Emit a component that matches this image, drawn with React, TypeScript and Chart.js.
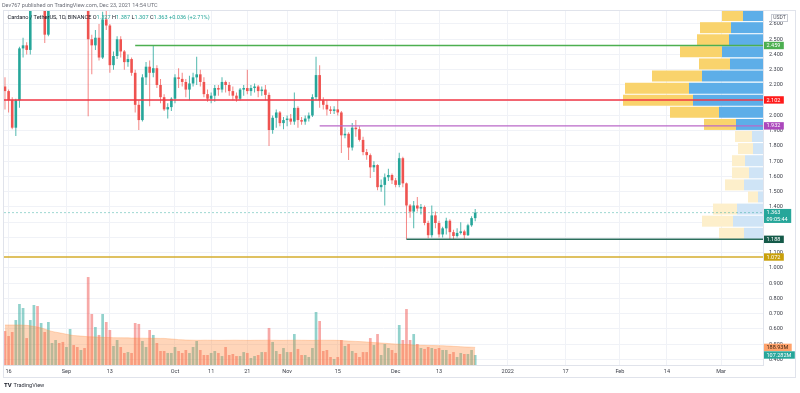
import React, { useEffect, useRef } from 'react';
import { Chart, registerables } from 'chart.js';

Chart.register(...registerables);

const FONT = 'Roboto, "Noto Sans", sans-serif';

// ---- time axis (day index, 0 = 16 Aug 2021) ----
const firstDay = -1; // first visible candle: 15 Aug 2021
const xRange = [-1.27, 208.57];
const timeTickDays = [0, 16, 28, 46, 56, 66, 77, 91, 107, 119, 138, 154, 169, 182, 197];
const timeTickLabels = ['16', 'Sep', '13', 'Oct', '11', '21', 'Nov', '15', 'Dec', '13', '2022', '17', 'Feb', '14', 'Mar'];

// ---- price axis ----
const priceRange = [0.3639, 2.6852];
const priceTicks = [2.6, 2.5, 2.4, 2.3, 2.2, 2.1, 2.0, 1.9, 1.8, 1.7, 1.6, 1.5, 1.4, 1.3, 1.2, 1.1, 1.0, 0.9, 0.8, 0.7, 0.6, 0.5, 0.4];
const priceTickLabels = ['2.600', '2.500', '2.400', '2.300', '2.200', '', '2.000', '1.900', '1.800', '1.700', '1.600', '1.500', '1.400', '', '', '1.100', '1.000', '0.900', '0.800', '0.700', '0.600', '0.500', '0.400'];

// ---- ADA/USDT daily candles ----
const opens = [
  2.19, 2.16, 2.10, 1.92, 2.10, 2.44, 2.46, 2.43, 2.80, 2.88, 2.73, 2.76, 2.53, 2.82, 2.85, 2.88, 2.79, 2.76, 2.90, 3.02,
  2.90, 2.82, 2.92, 2.84, 2.50, 2.46, 2.51, 2.38, 2.63, 2.59, 2.33, 2.39, 2.50, 2.42, 2.35, 2.37, 2.28, 2.07, 1.97, 2.25,
  2.32, 2.28, 2.31, 2.20, 2.12, 2.04, 2.055, 2.11, 2.25, 2.24, 2.22, 2.17, 2.21, 2.25, 2.27, 2.22, 2.14, 2.11, 2.13, 2.18,
  2.17, 2.22, 2.20, 2.16, 2.13, 2.11, 2.17, 2.18, 2.16, 2.18, 2.19, 2.16, 2.17, 2.135, 1.905, 1.985, 2.02, 1.95, 1.97, 1.98,
  1.96, 2.05, 1.97, 1.96, 1.98, 2.00, 2.12, 2.265, 2.10, 2.07, 2.04, 2.03, 2.04, 2.02, 1.87, 1.88, 1.79, 1.92, 1.91, 1.84,
  1.76, 1.74, 1.66, 1.675, 1.53, 1.545, 1.595, 1.61, 1.575, 1.545, 1.72, 1.555, 1.41, 1.37, 1.41, 1.39, 1.40, 1.295, 1.215, 1.345,
  1.295, 1.22, 1.26, 1.31, 1.235, 1.21, 1.23, 1.24, 1.215, 1.28, 1.327,
];
const highs = [
  2.25, 2.17, 2.12, 2.11, 2.45, 2.51, 2.48, 2.85, 2.96, 2.90, 2.82, 2.80, 2.85, 2.92, 2.95, 2.95, 2.82, 2.95, 3.10, 3.05,
  2.93, 2.95, 2.95, 2.88, 2.53, 2.56, 2.60, 2.68, 2.70, 2.60, 2.42, 2.52, 2.52, 2.43, 2.40, 2.38, 2.30, 2.10, 2.27, 2.35,
  2.36, 2.456, 2.33, 2.24, 2.14, 2.08, 2.12, 2.27, 2.31, 2.28, 2.24, 2.26, 2.28, 2.385, 2.30, 2.25, 2.17, 2.15, 2.20, 2.20,
  2.25, 2.23, 2.22, 2.19, 2.15, 2.18, 2.20, 2.30, 2.20, 2.21, 2.20, 2.19, 2.20, 2.15, 2.00, 2.04, 2.03, 1.99, 2.00, 2.01,
  2.15, 2.06, 1.99, 2.00, 2.02, 2.14, 2.386, 2.33, 2.12, 2.10, 2.06, 2.06, 2.10, 2.03, 1.92, 1.89, 1.95, 1.97, 1.93, 1.86,
  1.78, 1.75, 1.70, 1.68, 1.58, 1.62, 1.65, 1.62, 1.59, 1.756, 1.73, 1.56, 1.42, 1.44, 1.466, 1.42, 1.41, 1.31, 1.41, 1.37,
  1.31, 1.27, 1.33, 1.32, 1.25, 1.26, 1.30, 1.25, 1.29, 1.34, 1.387,
];
const lows = [
  2.04, 2.02, 1.91, 1.865, 2.05, 2.38, 2.40, 2.40, 2.75, 2.70, 2.70, 2.475, 2.52, 2.78, 2.80, 2.75, 2.70, 2.72, 2.88, 2.86,
  2.80, 2.78, 2.80, 1.995, 2.27, 2.43, 2.36, 2.37, 2.56, 2.28, 2.30, 2.37, 2.38, 2.30, 2.32, 2.26, 2.02, 1.905, 1.96, 2.20,
  2.06, 2.25, 2.18, 2.08, 2.03, 1.98, 2.03, 2.08, 2.18, 2.19, 2.12, 2.10, 2.19, 2.20, 2.19, 2.12, 2.09, 2.08, 2.09, 2.13,
  2.15, 2.15, 2.13, 2.10, 2.09, 2.10, 2.13, 2.14, 2.13, 2.15, 2.12, 2.13, 2.10, 1.80, 1.88, 1.92, 1.93, 1.91, 1.93, 1.94,
  1.94, 1.92, 1.94, 1.94, 1.96, 1.99, 2.10, 2.05, 2.04, 2.00, 2.01, 2.01, 2.00, 1.754, 1.85, 1.708, 1.77, 1.86, 1.83, 1.74,
  1.71, 1.59, 1.63, 1.51, 1.50, 1.41, 1.57, 1.55, 1.53, 1.53, 1.53, 1.188, 1.33, 1.26, 1.37, 1.35, 1.28, 1.195, 1.20, 1.26,
  1.20, 1.20, 1.22, 1.19, 1.19, 1.20, 1.22, 1.19, 1.21, 1.27, 1.307,
];
const closes = [
  2.16, 2.10, 1.92, 2.10, 2.44, 2.46, 2.43, 2.80, 2.88, 2.73, 2.76, 2.53, 2.82, 2.85, 2.88, 2.79, 2.76, 2.90, 3.02, 2.90,
  2.82, 2.92, 2.84, 2.50, 2.46, 2.51, 2.38, 2.63, 2.59, 2.33, 2.39, 2.50, 2.42, 2.35, 2.37, 2.28, 2.07, 1.97, 2.25, 2.32,
  2.28, 2.31, 2.20, 2.12, 2.04, 2.055, 2.11, 2.25, 2.24, 2.22, 2.17, 2.21, 2.25, 2.27, 2.22, 2.14, 2.11, 2.13, 2.18, 2.17,
  2.22, 2.20, 2.16, 2.13, 2.11, 2.17, 2.18, 2.16, 2.18, 2.19, 2.16, 2.17, 2.135, 1.905, 1.985, 2.02, 1.95, 1.97, 1.98, 1.96,
  2.05, 1.97, 1.96, 1.98, 2.00, 2.12, 2.265, 2.10, 2.07, 2.04, 2.03, 2.04, 2.02, 1.87, 1.88, 1.79, 1.92, 1.91, 1.84, 1.76,
  1.74, 1.66, 1.675, 1.53, 1.545, 1.595, 1.61, 1.575, 1.545, 1.72, 1.555, 1.41, 1.37, 1.41, 1.39, 1.40, 1.295, 1.215, 1.345, 1.295,
  1.22, 1.26, 1.31, 1.235, 1.21, 1.23, 1.24, 1.215, 1.28, 1.327, 1.363,
];

// ---- volume (millions ADA) and its moving average ----
const volumes = [
  364, 311, 354, 482, 654, 611, 289, 482, 643, 632, 450, 354, 461, 236, 268, 236, 247, 193, 386, 214,
  193, 161, 182, 943, 547, 407, 322, 547, 461, 375, 204, 268, 193, 129, 139, 129, 450, 440, 257, 193,
  375, 322, 236, 150, 150, 129, 129, 193, 150, 129, 161, 129, 193, 257, 161, 107, 107, 129, 150, 129,
  96, 193, 107, 118, 96, 96, 139, 129, 75, 96, 107, 139, 139, 397, 247, 150, 118, 182, 139, 139,
  332, 172, 107, 107, 86, 182, 568, 472, 150, 161, 86, 64, 86, 268, 204, 225, 150, 129, 86, 139,
  139, 289, 214, 332, 107, 225, 182, 161, 129, 429, 268, 600, 268, 332, 225, 182, 172, 193, 182, 172,
  182, 161, 161, 118, 139, 86, 129, 118, 118, 161, 107.282,
];
const volumeMA = [
  429, 429, 429, 429, 429, 427, 425, 420, 414, 407, 397, 386, 371, 360, 352, 345, 338, 330, 322, 316,
  313, 310, 307, 303, 302, 300, 298, 297, 295, 294, 293, 292, 292, 291, 291, 289, 289, 288, 288, 287,
  287, 286, 286, 285, 285, 282, 279, 276, 272, 270, 268, 267, 266, 265, 265, 266, 266, 265, 265, 264,
  264, 265, 265, 266, 266, 265, 265, 264, 264, 265, 265, 265, 266, 266, 265, 265, 264, 264, 265, 265,
  266, 266, 265, 265, 264, 264, 265, 265, 266, 265, 265, 265, 264, 262, 259, 257, 255, 253, 251, 249,
  247, 243, 241, 238, 236, 233, 230, 227, 225, 223, 221, 219, 217, 214, 213, 212, 211, 210, 209, 208,
  207, 207, 205, 203, 200, 198, 196, 194, 192, 191, 188.93,
];
const volumeAxisMax = 3795;

// ---- visible range volume profile (bottom row first) ----
const vpRowPrices = [1.2277, 1.307, 1.3863, 1.4656, 1.5449, 1.6242, 1.7035, 1.7828, 1.8621, 1.9414, 2.0207, 2.1, 2.1793, 2.2586, 2.3379, 2.4172, 2.4965, 2.5758, 2.6551];
const vpUpVolume = [19, 30, 26, 5, 19, 14, 18, 10, 11, 27, 44, 70, 74, 61, 33, 41, 34, 32, 20];
const vpDownVolume = [25, 31, 24, 10, 19, 17, 13, 15, 17, 32, 49, 70, 64, 50, 31, 42, 32, 31, 21];
const vpValueAreaLow = 1.902;
const vpAxisMax = 759;

// ---- drawn horizontal levels ----
const levelPrices = [2.459, 2.102, 1.932, 1.188, 1.072];
const levelStartDays = [35, -1.27, 86, 110, -1.27];
const levelColors = ['#4CAF50', '#F23645', '#BA68C8', '#2B6E5C', '#D4AC2C'];
const levelWidths = [1.5, 1.6, 1.2, 1.6, 1.6];
const levelLabelColors = ['#4CAF50', '#FF1A1A', '#AB47BC', '#155A49', '#C9A00C'];

const UP = '#26A69A';
const DOWN = '#EF5350';

const overlayPlugin = {
  id: 'tvOverlay',
  afterDraw(chart: any) {
    const ctx = chart.ctx as CanvasRenderingContext2D;
    const area = chart.chartArea;
    const yS = chart.scales.y;
    const vS = chart.scales.vol;
    ctx.save();

    // frame
    ctx.strokeStyle = '#e0e3eb';
    ctx.lineWidth = 1;
    ctx.strokeRect(3.5, 10.5, 792, 367);

    // header
    ctx.textBaseline = 'middle';
    ctx.textAlign = 'left';
    ctx.font = `5.5px ${FONT}`;
    ctx.fillStyle = '#6b6e78';
    ctx.fillText('Dev767 published on TradingView.com, Dec 23, 2021 14:54 UTC', 2, 6);

    // legend
    const n = closes.length - 1;
    const chg = closes[n] - closes[n - 1];
    const pct = (chg / closes[n - 1]) * 100;
    const parts: [string, string][] = [
      ['Cardano / TetherUS, 1D, BINANCE ', '#131722'],
      ['O', '#131722'], [opens[n].toFixed(3) + ' ', UP],
      ['H', '#131722'], [highs[n].toFixed(3) + ' ', UP],
      ['L', '#131722'], [lows[n].toFixed(3) + ' ', UP],
      ['C', '#131722'], [closes[n].toFixed(3) + ' ', UP],
      [(chg >= 0 ? '+' : '') + chg.toFixed(3) + ' (' + (pct >= 0 ? '+' : '') + pct.toFixed(2) + '%)', UP],
    ];
    let lx = 7.5;
    ctx.font = `5.6px ${FONT}`;
    for (const [t, c] of parts) {
      ctx.fillStyle = c;
      ctx.fillText(t, lx, 17.7);
      lx += ctx.measureText(t).width;
    }

    // USDT badge
    ctx.strokeStyle = '#c8cbd3';
    ctx.fillStyle = '#ffffff';
    ctx.fillRect(771.5, 14.5, 16, 7);
    ctx.strokeRect(771.5, 14.5, 16, 7);
    ctx.fillStyle = '#50535e';
    ctx.font = `5px ${FONT}`;
    ctx.textAlign = 'center';
    ctx.fillText('USDT', 779.5, 18.2);
    ctx.textAlign = 'left';

    // axis labels
    const box = (py: number, text: string, bg: string, fg: string) => {
      ctx.font = `5.5px ${FONT}`;
      const w = ctx.measureText(text).width + 6;
      ctx.fillStyle = bg;
      ctx.fillRect(area.right + 1, py - 3.7, w, 7.4);
      ctx.fillStyle = fg;
      ctx.fillText(text, area.right + 3.5, py + 0.2);
    };
    levelPrices.forEach((p, i) => {
      box(yS.getPixelForValue(p), p.toFixed(3), levelLabelColors[i], '#ffffff');
    });
    // current price + countdown
    const cy = yS.getPixelForValue(closes[n]);
    ctx.font = `5.5px ${FONT}`;
    const cw = ctx.measureText('09:05:44').width + 6;
    ctx.fillStyle = UP;
    ctx.fillRect(area.right + 1, cy - 3.7, cw, 14);
    ctx.fillStyle = '#ffffff';
    ctx.fillText(closes[n].toFixed(3), area.right + 3.5, cy + 0.2);
    ctx.fillText('09:05:44', area.right + 3.5, cy + 6.6);
    // volume labels
    box(vS.getPixelForValue(volumeMA[n]), volumeMA[n].toFixed(2) + 'M', '#FFA26B', '#3b2412');
    box(vS.getPixelForValue(volumes[n]), volumes[n].toFixed(3) + 'M', UP, '#ffffff');

    // TradingView logo
    ctx.fillStyle = '#131722';
    ctx.font = `bold 6px ${FONT}`;
    ctx.fillText('TV', 4, 385.5);
    ctx.font = `5.6px ${FONT}`;
    ctx.fillStyle = '#2a2e39';
    ctx.fillText('TradingView', 13.5, 385.5);

    ctx.restore();
  },
};

export default function App() {
  const ref = useRef<HTMLCanvasElement | null>(null);

  useEffect(() => {
    const canvas = ref.current;
    if (!canvas) return;
    const days = opens.map((_, i) => firstDay + i);
    const up = opens.map((o, i) => closes[i] >= o);
    const bodyColors = up.map((u) => (u ? UP : DOWN));
    const wickColors = up.map((u) => (u ? 'rgba(38,166,154,0.8)' : 'rgba(239,83,80,0.7)'));
    const volColors = up.map((u) => (u ? 'rgba(38,166,154,0.5)' : 'rgba(239,83,80,0.5)'));
    const last = closes.length - 1;

    const datasets: any[] = [];
    levelPrices.forEach((p, i) => {
      datasets.push({
        type: 'line',
        data: [{ x: levelStartDays[i], y: p }, { x: xRange[1], y: p }],
        borderColor: levelColors[i],
        borderWidth: levelWidths[i],
        pointRadius: 0,
        fill: false,
        xAxisID: 'x',
        yAxisID: 'y',
        order: 1,
      });
    });
    datasets.push({
      type: 'line',
      data: [{ x: xRange[0], y: closes[last] }, { x: xRange[1], y: closes[last] }],
      borderColor: 'rgba(38,166,154,0.45)',
      borderWidth: 1,
      borderDash: [2, 2],
      pointRadius: 0,
      fill: false,
      xAxisID: 'x',
      yAxisID: 'y',
      order: 2,
    });
    datasets.push({
      type: 'bar',
      data: days.map((d, i) => ({ x: d, y: [opens[i], closes[i]] })),
      backgroundColor: bodyColors,
      barThickness: 2.6,
      grouped: false,
      minBarLength: 1,
      inflateAmount: 0,
      xAxisID: 'x',
      yAxisID: 'y',
      order: 3,
    });
    datasets.push({
      type: 'bar',
      data: days.map((d, i) => ({ x: d, y: [lows[i], highs[i]] })),
      backgroundColor: wickColors,
      barThickness: 1,
      grouped: false,
      inflateAmount: 0,
      xAxisID: 'x',
      yAxisID: 'y',
      order: 4,
    });
    datasets.push({
      type: 'line',
      data: days.map((d, i) => ({ x: d, y: volumeMA[i] })),
      borderColor: 'rgba(255,140,60,0.3)',
      borderWidth: 1,
      backgroundColor: 'rgba(255,138,60,0.36)',
      fill: 'origin',
      pointRadius: 0,
      tension: 0,
      xAxisID: 'x',
      yAxisID: 'vol',
      order: 5,
    });
    datasets.push({
      type: 'bar',
      data: days.map((d, i) => ({ x: d, y: volumes[i] })),
      backgroundColor: volColors,
      barThickness: 2.7,
      grouped: false,
      inflateAmount: 0,
      xAxisID: 'x',
      yAxisID: 'vol',
      order: 6,
    });
    const inVA = vpRowPrices.map((p) => p >= vpValueAreaLow);
    datasets.push({
      type: 'bar',
      indexAxis: 'y',
      data: vpRowPrices.map((p, i) => ({ y: p, x: [0, vpUpVolume[i]] })),
      backgroundColor: inVA.map((v) => (v ? '#5DAEE8' : '#CFE4F6')),
      barThickness: 11,
      grouped: false,
      inflateAmount: 0,
      xAxisID: 'vp',
      yAxisID: 'y',
      order: 7,
    });
    datasets.push({
      type: 'bar',
      indexAxis: 'y',
      data: vpRowPrices.map((p, i) => ({ y: p, x: [vpUpVolume[i], vpUpVolume[i] + vpDownVolume[i]] })),
      backgroundColor: inVA.map((v) => (v ? '#F9D36C' : '#FDEFCB')),
      barThickness: 11,
      grouped: false,
      inflateAmount: 0,
      xAxisID: 'vp',
      yAxisID: 'y',
      order: 7,
    });

    const tickFont = { size: 5.5, family: FONT };
    const chart = new Chart(canvas, {
      type: 'bar',
      data: { datasets },
      options: {
        animation: false,
        responsive: false,
        maintainAspectRatio: false,
        events: [],
        layout: { padding: { left: 4, top: 11, right: 5, bottom: 15 } },
        plugins: { legend: { display: false }, tooltip: { enabled: false }, title: { display: false } },
        scales: {
          x: {
            type: 'linear',
            position: 'bottom',
            min: xRange[0],
            max: xRange[1],
            offset: false,
            grid: { color: '#f0f2f7', drawTicks: false, offset: false },
            border: { display: true, color: '#e0e3eb' },
            ticks: {
              autoSkip: false,
              maxRotation: 0,
              minRotation: 0,
              padding: 3,
              color: '#3b3e48',
              font: tickFont,
              callback: (v: any) => {
                const k = timeTickDays.indexOf(Number(v));
                return k >= 0 ? timeTickLabels[k] : '';
              },
            },
            afterBuildTicks: (s: any) => {
              s.ticks = timeTickDays.map((v) => ({ value: v }));
            },
            afterFit: (s: any) => {
              s.height = 13;
            },
          },
          y: {
            type: 'linear',
            position: 'right',
            min: priceRange[0],
            max: priceRange[1],
            offset: false,
            beginAtZero: false,
            grid: { color: '#f0f2f7', drawTicks: false, offset: false },
            border: { display: true, color: '#e0e3eb' },
            ticks: {
              padding: 6,
              color: '#3b3e48',
              font: tickFont,
              callback: (v: any) => {
                const k = priceTicks.findIndex((t) => Math.abs(t - Number(v)) < 1e-6);
                return k >= 0 ? priceTickLabels[k] : '';
              },
            },
            afterBuildTicks: (s: any) => {
              s.ticks = priceTicks.map((v) => ({ value: v }));
            },
            afterFit: (s: any) => {
              s.width = 32;
            },
          },
          vol: {
            type: 'linear',
            axis: 'y',
            position: 'left',
            display: false,
            min: 0,
            max: volumeAxisMax,
            offset: false,
          },
          vp: {
            type: 'linear',
            axis: 'x',
            position: 'top',
            display: false,
            min: 0,
            max: vpAxisMax,
            reverse: true,
            offset: false,
          },
        },
      } as any,
      plugins: [overlayPlugin],
    });
    return () => chart.destroy();
  }, []);

  return (
    <div style={{ position: 'absolute', left: 0, top: 0, width: 800, height: 393, background: '#ffffff' }}>
      <canvas ref={ref} width={800} height={393} style={{ display: 'block', width: 800, height: 393 }} />
    </div>
  );
}
